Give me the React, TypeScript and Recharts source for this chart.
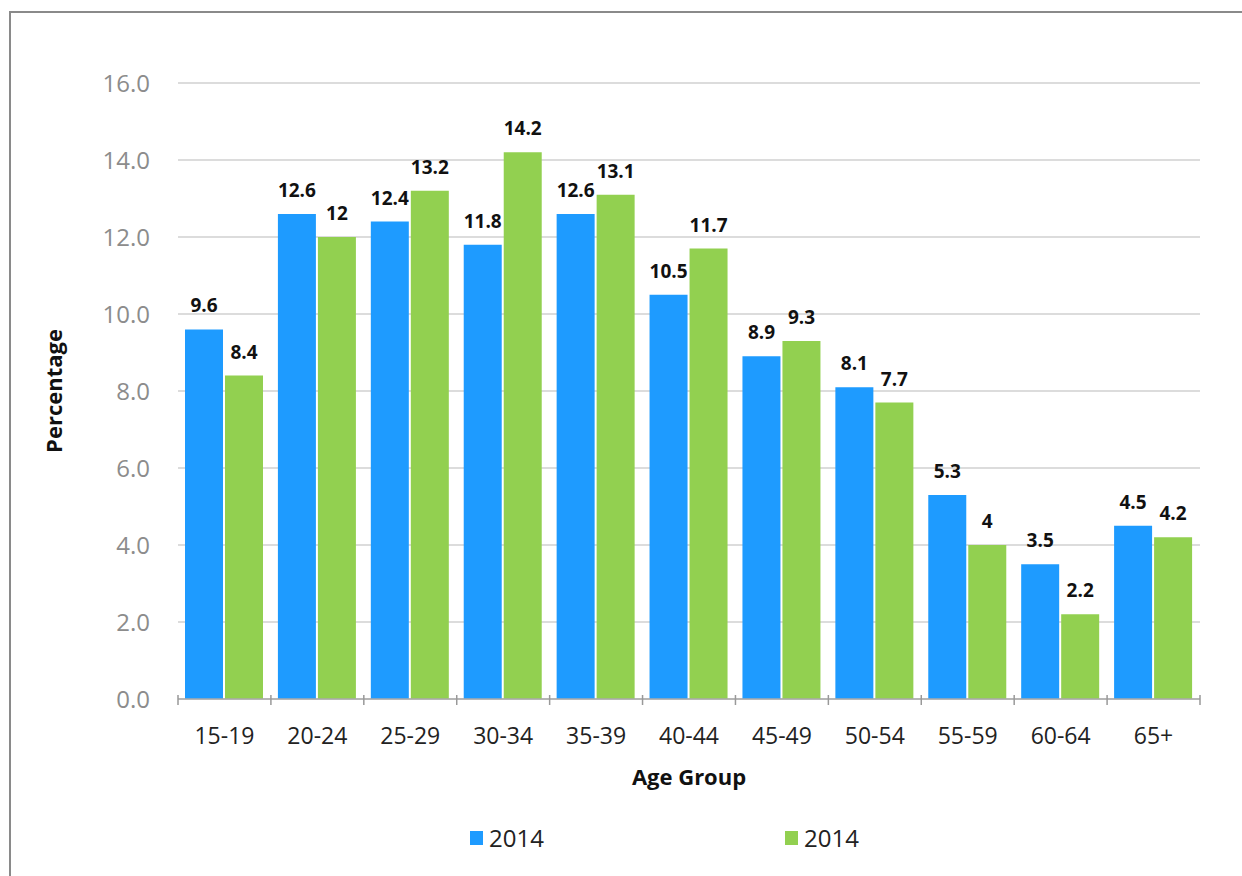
import { Bar, BarChart, CartesianGrid, LabelList, Legend, XAxis, YAxis } from "recharts";

// age groups and the two series (both labelled 2014 in the source)
const ageGroups = ["15-19", "20-24", "25-29", "30-34", "35-39", "40-44", "45-49", "50-54", "55-59", "60-64", "65+"];
const seriesA = [9.6, 12.6, 12.4, 11.8, 12.6, 10.5, 8.9, 8.1, 5.3, 3.5, 4.5];
const seriesB = [8.4, 12, 13.2, 14.2, 13.1, 11.7, 9.3, 7.7, 4, 2.2, 4.2];
const yTicks = [0, 2, 4, 6, 8, 10, 12, 14, 16];
const legendNames = ["2014", "2014"];

const BLUE = "#1E9BFF";
const GREEN = "#92D050";
const FONT = "'Open Sans', sans-serif";

const data = ageGroups.map((g, i) => ({ group: g, a: seriesA[i], b: seriesB[i] }));

const PLOT_W = 1022;
const BAND = PLOT_W / ageGroups.length;

function AgeTick(props: any) {
  const { x, y, payload, index } = props;
  const top = y - 12;
  return (
    <g>
      <line x1={x - BAND / 2} y1={top} x2={x - BAND / 2} y2={top + 10} stroke="#999" strokeWidth={1.5} />
      {index === ageGroups.length - 1 && (
        <line x1={x + BAND / 2} y1={top} x2={x + BAND / 2} y2={top + 10} stroke="#999" strokeWidth={1.5} />
      )}
      <text x={x} y={top + 49} textAnchor="middle" fontSize={23} fill="#222" fontFamily={FONT}>
        {payload.value}
      </text>
    </g>
  );
}

function LegendBox() {
  const colors = [BLUE, GREEN];
  return (
    <div style={{ position: "relative", height: 40, fontFamily: FONT }}>
      {legendNames.map((n, i) => (
        <div
          key={i}
          style={{ position: "absolute", left: i === 0 ? 470 : 785, top: 0, display: "flex", alignItems: "center" }}
        >
          <span style={{ width: 13, height: 14, background: colors[i], display: "inline-block", marginRight: 6 }} />
          <span style={{ fontSize: 24, color: "#222" }}>{n}</span>
        </div>
      ))}
    </div>
  );
}

const labelStyle = { fontSize: 19, fontWeight: 700, fill: "#111", fontFamily: FONT };

export default function App() {
  return (
    <div style={{ position: "absolute", left: 0, top: 0, width: 1242, height: 876, background: "#fff", overflow: "hidden" }}>
      <div
        style={{
          position: "absolute",
          left: 9,
          top: 11,
          width: 1300,
          height: 900,
          borderLeft: "2px solid #8a8a8a",
          borderTop: "2px solid #8a8a8a",
        }}
      />
      <BarChart
        width={1242}
        height={876}
        data={data}
        margin={{ top: 83, right: 42, bottom: 53, left: 78 }}
        barGap={2}
        barCategoryGap={7}
        style={{ position: "absolute", left: 0, top: 0 }}
      >
        <CartesianGrid vertical={false} stroke="#d0d0d0" strokeWidth={1.5} />
        <XAxis
          dataKey="group"
          height={84}
          axisLine={{ stroke: "#aaa", strokeWidth: 1.5 }}
          tickLine={false}
          interval={0}
          tick={<AgeTick />}
          label={{
            value: "Age Group",
            position: "insideBottom",
            offset: 0,
            dy: 2,
            style: { fontSize: 22, fontWeight: 700, fill: "#111", fontFamily: FONT },
          }}
        />
        <YAxis
          width={100}
          domain={[0, 16]}
          ticks={yTicks}
          tickFormatter={(v: number) => v.toFixed(1)}
          axisLine={false}
          tickLine={false}
          tickSize={0}
          tickMargin={28}
          tick={{ fontSize: 24, fill: "#8c8c8c", fontFamily: FONT }}
          label={{
            value: "Percentage",
            angle: -90,
            position: "insideLeft",
            offset: -24,
            style: { fontSize: 22, fontWeight: 700, fill: "#111", fontFamily: FONT, textAnchor: "middle" },
          }}
        />
        <Legend
          verticalAlign="bottom"
          wrapperStyle={{ left: 0, width: 1242, bottom: 15 }}
          content={() => <LegendBox />}
        />
        <Bar dataKey="a" name={legendNames[0]} fill={BLUE} isAnimationActive={false}>
          <LabelList dataKey="a" position="top" offset={17} style={labelStyle} />
        </Bar>
        <Bar dataKey="b" name={legendNames[1]} fill={GREEN} isAnimationActive={false}>
          <LabelList dataKey="b" position="top" offset={17} style={labelStyle} />
        </Bar>
      </BarChart>
    </div>
  );
}
